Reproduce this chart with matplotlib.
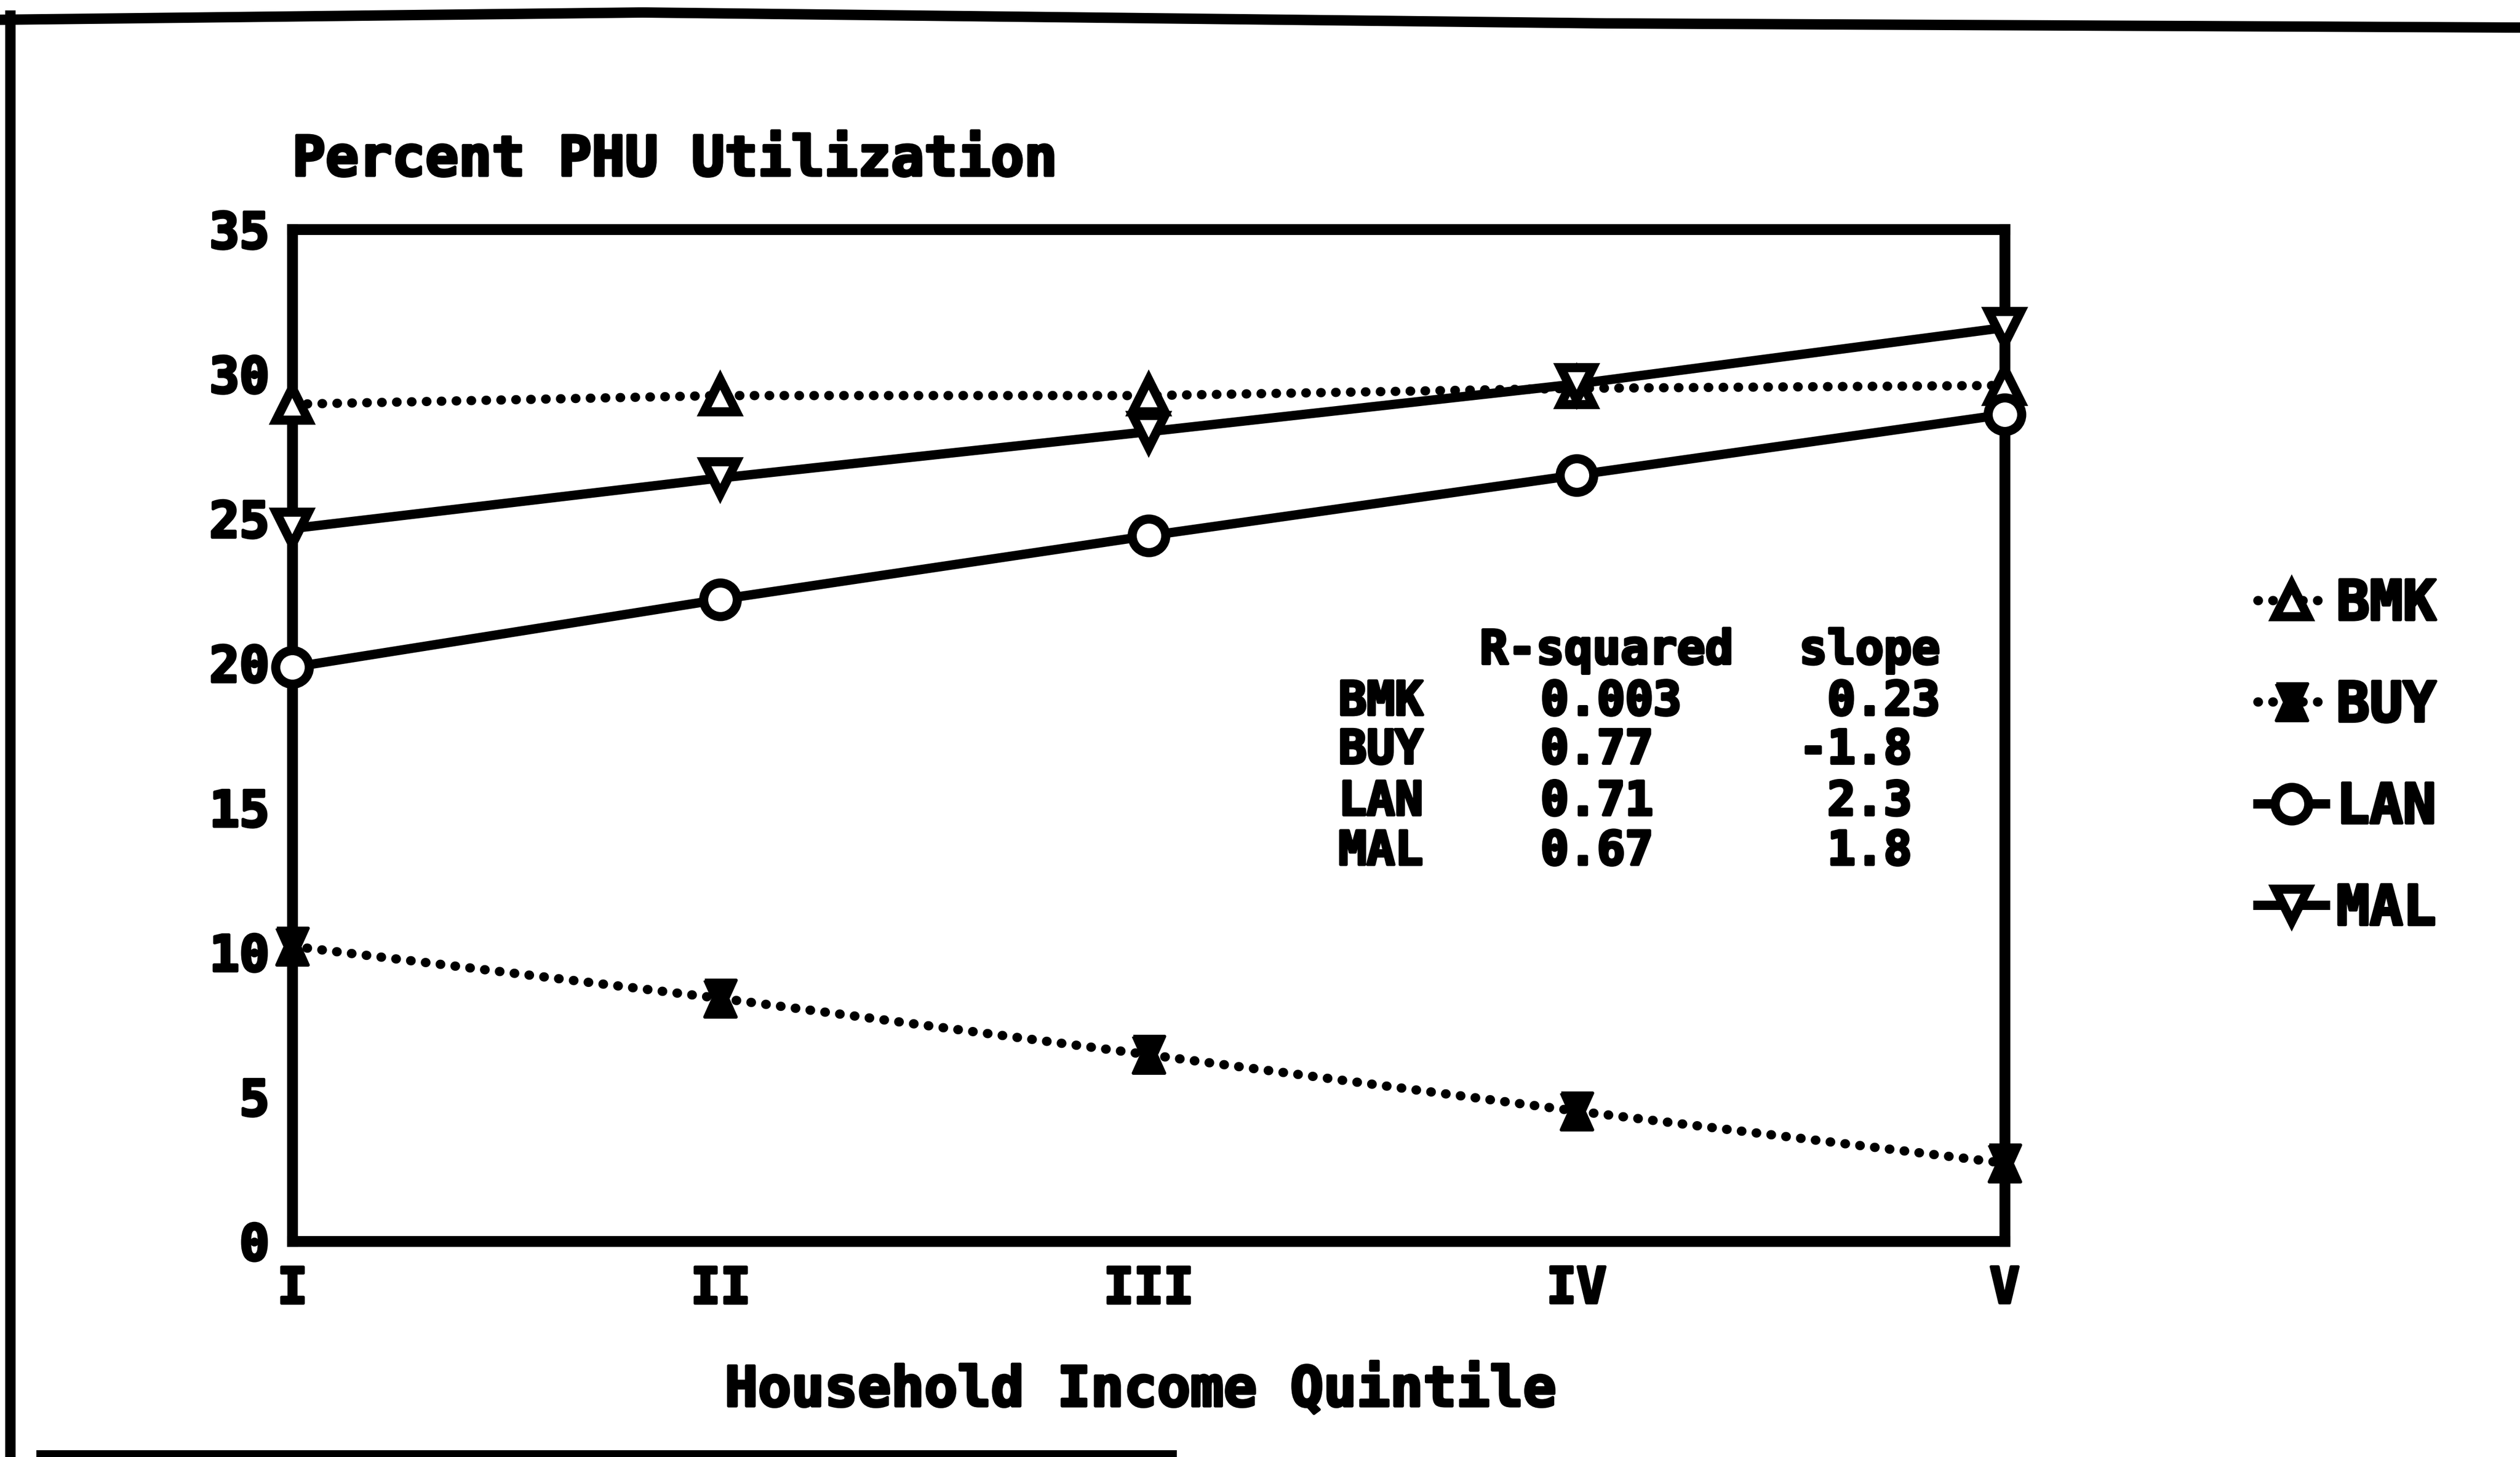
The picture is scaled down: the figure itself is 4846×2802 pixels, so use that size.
import matplotlib
matplotlib.use('Agg')
import matplotlib.pyplot as plt
import matplotlib.patheffects as pe
from matplotlib.lines import Line2D

# values
quintiles = ['I', 'II', 'III', 'IV', 'V']
bmk = [28.95, 29.25, 29.25, 29.5, 29.6]
buy = [10.2, 8.4, 6.45, 4.5, 2.7]
lan = [19.85, 22.2, 24.4, 26.5, 28.6]
mal = [24.65, 26.4, 28.0, 29.65, 31.6]

# regression summary printed inside the plot
groups = ['BMK', 'BUY', 'LAN', 'MAL']
r_squared = ['0.003', '0.77', '0.71', '0.67']
slopes = [' 0.23', '-1.8', ' 2.3', ' 1.8']

FONT = 'DejaVu Sans Mono'
plt.rcParams['font.family'] = FONT
plt.rcParams['font.weight'] = 'bold'

W, H = 4846, 2802
DPI = 300
fig = plt.figure(figsize=(W / DPI, H / DPI), dpi=DPI)
fig.patch.set_facecolor('white')

ax = fig.add_axes([562 / W, 1 - 2387 / H, (3855 - 562) / W, (2387 - 441) / H])

x = list(range(len(quintiles)))
hourglass = [(-0.85, 1), (0.85, 1), (0.4, 0), (0.85, -1), (-0.85, -1), (-0.4, 0), (-0.85, 1)]

lw = 4.3
dots = (0, (0.05, 1.55))
ax.plot(x, bmk, color='black', lw=lw, linestyle=dots, dash_capstyle='round',
        marker='^', ms=15, mfc='white', mec='black', mew=4.2, clip_on=False,
        label='BMK', zorder=3)
ax.plot(x, buy, color='black', lw=lw, linestyle=dots, dash_capstyle='round',
        marker=hourglass, ms=17, mfc='black', mec='black', mew=1.5, clip_on=False,
        label='BUY', zorder=3)
ax.plot(x, lan, color='black', lw=lw, linestyle='-',
        marker='o', ms=15.5, mfc='white', mec='black', mew=4.2, clip_on=False,
        label='LAN', zorder=4)
ax.plot(x, mal, color='black', lw=lw, linestyle='-',
        marker='v', ms=15, mfc='white', mec='black', mew=4.2, clip_on=False,
        label='MAL', zorder=4)

ax.set_xlim(0, len(quintiles) - 1)
ax.set_ylim(0, 35)
ax.set_xticks(x)
ax.set_xticklabels(quintiles)
ax.set_yticks(range(0, 36, 5))
ax.tick_params(axis='both', length=0, labelsize=23)
ax.tick_params(axis='y', pad=10.5)
ax.tick_params(axis='x', pad=11)
for s in ax.spines.values():
    s.set_linewidth(5.0)
    s.set_color('black')

texts = []
texts.append(ax.text(0.0, 1.068, 'Percent PHU Utilization', transform=ax.transAxes,
                     ha='left', va='center', fontsize=25.5, fontweight='bold'))
texts.append(ax.text(0.4955, -0.148, 'Household Income Quintile', transform=ax.transAxes,
                     ha='center', va='center', fontsize=25.5, fontweight='bold'))

# summary table
ts = 21.6
row_y = [0.533, 0.485, 0.434, 0.385]
texts.append(ax.text(0.6935, 0.5835, 'R-squared', transform=ax.transAxes,
                     ha='left', va='center', fontsize=ts))
texts.append(ax.text(0.880, 0.5835, 'slope', transform=ax.transAxes,
                     ha='left', va='center', fontsize=ts))
for g, r, s, yy in zip(groups, r_squared, slopes, row_y):
    texts.append(ax.text(0.611, yy, g, transform=ax.transAxes, ha='left', va='center', fontsize=ts))
    texts.append(ax.text(0.729, yy, r, transform=ax.transAxes, ha='left', va='center', fontsize=ts))
    texts.append(ax.text(0.880, yy, s, transform=ax.transAxes, ha='left', va='center', fontsize=ts))

leg = ax.legend(loc='upper left', bbox_to_anchor=(4342 / W, 1 - 1112 / H),
                bbox_transform=fig.transFigure, frameon=False, fontsize=25.5,
                handlelength=1.22, handletextpad=0.2, labelspacing=0.88,
                borderpad=0, borderaxespad=0, numpoints=1)

# heavier strokes, like the old printer output
texts += ax.get_xticklabels() + ax.get_yticklabels() + leg.get_texts()
for t in texts:
    t.set_path_effects([pe.withStroke(linewidth=1.3, foreground='black')])

# scanned page border
top_x = [0, 1236, 3090, W]
top_y = [38, 24, 45, 53]
fig.add_artist(Line2D([v / W for v in top_x], [1 - v / H for v in top_y],
                      color='black', lw=4.8, transform=fig.transFigure))
fig.add_artist(Line2D([20 / W, 20 / W], [1 - 30 / H, 0], color='black', lw=4.8,
                      transform=fig.transFigure))
fig.add_artist(Line2D([77 / W, 2256 / W], [1 - 2796 / H, 1 - 2796 / H], color='black',
                      lw=3.4, transform=fig.transFigure))

fig.savefig('out.png', dpi=DPI, facecolor='white')
